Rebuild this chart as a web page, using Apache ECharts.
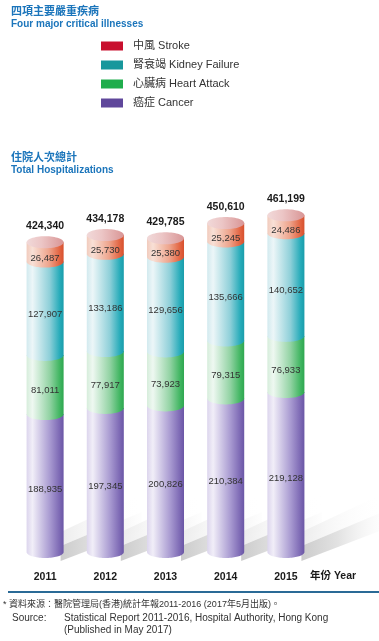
<!DOCTYPE html>
<html>
<head>
<meta charset="utf-8">
<script src="https://cdn.jsdelivr.net/npm/echarts@6/dist/echarts.min.js"></script>
<style>
html,body{margin:0;padding:0;background:#fff;}
#c{width:379px;height:641px;}
</style>
</head>
<body>
<div id="c"></div>
<script>
const categories = ['2011', '2012', '2013', '2014', '2015'];
const cancer = [188935, 197345, 200826, 210384, 219128];
const heart  = [81011, 77917, 73923, 79315, 76933];
const kidney = [127907, 133186, 129656, 135666, 140652];
const stroke = [26487, 25730, 25380, 25245, 24486];
const totals = [424340, 434178, 429785, 450610, 461199];
const seriesNames = ['癌症 Cancer', '心臟病 Heart Attack', '腎衰竭 Kidney Failure', '中風 Stroke'];
const legendOrder = ['中風 Stroke', '腎衰竭 Kidney Failure', '心臟病 Heart Attack', '癌症 Cancer'];

const FONT = '"Liberation Sans", Arial, "Noto Sans CJK TC", sans-serif';
const stacks = [cancer, heart, kidney, stroke];
const solid = ['#5f479b', '#1fad4c', '#17979c', '#c8102e'];
const grads = [
  [[0,'#dcd5ed'],[0.16,'#f1eef8'],[0.62,'#aa9cd2'],[0.9,'#7b67b3'],[1,'#6a56a5']],
  [[0,'#d6eddb'],[0.16,'#eef8f1'],[0.62,'#93d3a4'],[0.9,'#3fb560'],[1,'#2fa650']],
  [[0,'#d2eaef'],[0.16,'#ecf6f8'],[0.62,'#8fd0d9'],[0.9,'#25abb9'],[1,'#1a9caa']],
  [[0,'#f1cbbd'],[0.16,'#f8e0d6'],[0.6,'#eea58d'],[0.9,'#e2623f'],[1,'#d6502e']]
];
const capGrad = [[0,'#f1d9d9'],[0.4,'#ecc6c6'],[1,'#d99696']];
const RY = 6;

function lg(stops){
  return new echarts.graphic.LinearGradient(0,0,1,0, stops.map(s=>({offset:s[0], color:s[1]})));
}
function arcPts(cx, cy, rx, ry, a0, a1, n){
  const pts=[];
  for(let i=0;i<=n;i++){const a=a0+(a1-a0)*i/n; pts.push([cx+rx*Math.cos(a), cy+ry*Math.sin(a)]);}
  return pts;
}

function makeData(k){
  return categories.map((c,i)=>{
    let base=0; for(let j=0;j<k;j++) base+=stacks[j][i];
    return [i, base, base+stacks[k][i], stacks[k][i]];
  });
}

function renderSeg(k){
  return function(params, api){
    const i = api.value(0);
    const pB = api.coord([i, api.value(1)]);
    const pT = api.coord([i, api.value(2)]);
    const w = api.size([1,0])[0]*0.615;
    const rx = w/2, cx = pB[0], yB = pB[1], yT = pT[1];
    const pts = [[cx+rx, yT],[cx+rx, yB]].concat(arcPts(cx, yB, rx, RY, 0, Math.PI, 40)).concat([[cx-rx, yT]]);
    const children = [{
      type:'polygon', shape:{points:pts}, style:{fill: lg(grads[k])}
    }];
    if(k===3){
      children.push({type:'polygon', shape:{points:arcPts(cx, yT, rx, RY, 0, Math.PI*2, 60)}, style:{fill: lg(capGrad)}});
      children.push({type:'text', style:{text: echarts.format.addCommas(totals[i]), x:cx, y:yT-RY-10, align:'center', verticalAlign:'middle', font:'bold 10.5px '+FONT, fill:'#1a1a1a'}});
    }
    children.push({type:'text', style:{text: echarts.format.addCommas(api.value(3)), x:cx, y:(yT+yB)/2+RY, align:'center', verticalAlign:'middle', font:'9.5px '+FONT, fill:'#333'}});
    return {type:'group', children};
  };
}

function renderShadow(params, api){
  const i = api.value(0);
  const p0 = api.coord([i, 0]);
  const w = api.size([1,0])[0]*0.615;
  const xr = p0[0]+w/2, y0=p0[1];
  return {type:'group', children:[
    {type:'polygon', shape:{points:[[xr-3,y0-6],[xr+78,y0-40],[xr+78,y0-58],[xr-3,y0-20]]},
      style:{fill: new echarts.graphic.LinearGradient(0,0,1,0,[{offset:0,color:'#ececec'},{offset:1,color:'rgba(255,255,255,0)'}])}},
    {type:'polygon', shape:{points:[[xr-3,y0+9],[xr+78,y0-22],[xr+78,y0-40],[xr-3,y0-6]]},
      style:{fill: new echarts.graphic.LinearGradient(0,0,1,0,[{offset:0,color:'#cccccc'},{offset:0.45,color:'#e2e2e2'},{offset:1,color:'rgba(250,250,250,0.3)'}])}}
  ]};
}

const series = [{
  type:'custom', name:'shadow', renderItem: renderShadow, data: categories.map((c,i)=>[i,0]), z:1, silent:true
}];
stacks.forEach((arr,k)=>{
  series.push({type:'custom', name: seriesNames[k], renderItem: renderSeg(k), data: makeData(k),
    itemStyle:{color: solid[k]}, z:2+k, silent:true, encode:{x:0, y:[1,2]}});
});

const chart = echarts.init(document.getElementById('c'), null, {renderer:'canvas'});
chart.setOption({
  animation:false,
  backgroundColor:'#fff',
  title:[
    {text:'四項主要嚴重疾病', subtext:'Four major critical illnesses', left:6, top:1, itemGap:2,
     textStyle:{fontSize:11, fontWeight:'bold', color:'#1b75bb', fontFamily:FONT},
     subtextStyle:{fontSize:10, fontWeight:'bold', color:'#1b75bb', fontFamily:FONT}},
    {text:'住院人次總計', subtext:'Total Hospitalizations', left:6, top:147, itemGap:2,
     textStyle:{fontSize:11, fontWeight:'bold', color:'#1b75bb', fontFamily:FONT},
     subtextStyle:{fontSize:10, fontWeight:'bold', color:'#1b75bb', fontFamily:FONT}}
  ],
  legend:{orient:'vertical', left:101, top:40, padding:0, itemWidth:22, itemHeight:9, itemGap:7,
    icon:'rect', data: legendOrder, selectedMode:false,
    textStyle:{fontSize:11, color:'#333', fontFamily:FONT, padding:[0,0,0,5], lineHeight:12}},
  grid:{left:15, right:63, top:187, bottom:89},
  xAxis:{type:'category', data:categories, axisLine:{show:false}, axisTick:{show:false},
    axisLabel:{margin:20, fontSize:10.5, fontWeight:'bold', color:'#1a1a1a', fontFamily:FONT}},
  yAxis:{type:'value', min:0, max:500000, show:false, splitLine:{show:false}},
  series: series,
  graphic:[
    {type:'text', left:310, top:571, style:{text:'年份 Year', font:'bold 10.5px '+FONT, fill:'#1a1a1a'}},
    {type:'line', shape:{x1:8, y1:592, x2:379, y2:592}, style:{stroke:'#2a6a96', lineWidth:2}},
    {type:'text', left:3, top:600, style:{text:'* 資料來源：醫院管理局(香港)統計年報2011-2016 (2017年5月出版)。', font:'9px '+FONT, fill:'#333'}},
    {type:'text', left:12, top:613, style:{text:'Source:', font:'10px '+FONT, fill:'#333'}},
    {type:'text', left:64, top:613, style:{text:'Statistical Report 2011-2016, Hospital Authority, Hong Kong', font:'10px '+FONT, fill:'#333'}},
    {type:'text', left:64, top:625, style:{text:'(Published in May 2017)', font:'10px '+FONT, fill:'#333'}}
  ]
});
</script>
</body>
</html>
